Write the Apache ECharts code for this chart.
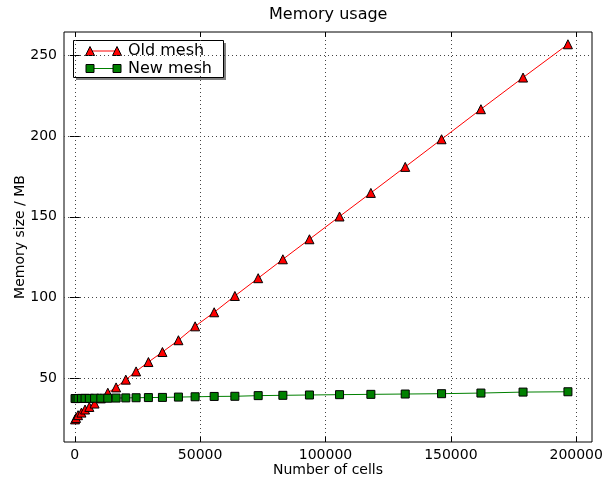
<!DOCTYPE html>
<html>
<head>
<meta charset="utf-8">
<script src="https://cdn.jsdelivr.net/npm/echarts@6/dist/echarts.min.js"></script>
<style>
html,body{margin:0;padding:0;background:#fff;}
#chart{width:606px;height:479px;}
</style>
</head>
<body>
<div id="chart"></div>
<script>
// Data
const cells = [100, 500, 1300, 2650, 4100, 5800, 7900, 10400, 13170, 16480, 20350, 24460, 29370, 34960, 41340, 48000, 55600, 63850, 73150, 83000, 93600, 105600, 118100, 131800, 146300, 162000, 178800, 196700];
const oldMesh = [24.6, 25.5, 27.2, 28.8, 30.7, 32.3, 34.4, 37.6, 41.1, 44.4, 49.2, 54.3, 60.1, 66.3, 73.6, 82.2, 90.9, 101.0, 112.0, 123.7, 136.1, 150.2, 164.8, 180.9, 198.0, 216.6, 236.2, 256.8];
const newMesh = [37.5, 37.5, 37.5, 37.6, 37.6, 37.6, 37.7, 37.7, 37.7, 37.8, 37.9, 38.0, 38.1, 38.2, 38.4, 38.6, 38.8, 38.9, 39.3, 39.5, 39.7, 39.9, 40.1, 40.3, 40.5, 40.9, 41.5, 41.7];
const xTicks = [0, 50000, 100000, 150000, 200000];
const yTicks = [50, 100, 150, 200, 250];
const seriesNames = ['Old mesh', 'New mesh'];
const titleText = 'Memory usage';
const xName = 'Number of cells';
const yName = 'Memory size / MB';

const FONT = 'DejaVu Sans';
const X_MIN = -4300, X_MAX = 206300, Y_MIN = 10.6, Y_MAX = 264.4;

const chart = echarts.init(document.getElementById('chart'), null, {renderer: 'canvas'});

const gridLine = {show: true, lineStyle: {color: '#444', width: 1, type: [1, 3]}};
const tickStyle = {show: true, inside: true, length: 5, lineStyle: {color: '#000', width: 1}};
const plain = v => String(v);

function tri(cx, cy, s) {
  const h = s / 2;
  return [[cx, cy - h], [cx - h, cy + h], [cx + h, cy + h]];
}

const legendX = 73.5, legendY = 40.5, legendW = 150, legendH = 37;
const l1 = 51, l2 = 68.5, sx1 = 90, sx2 = 117;

const option = {
  animation: false,
  backgroundColor: '#fff',
  textStyle: {fontFamily: FONT},
  title: {
    text: titleText,
    left: 269, top: 7, padding: 0,
    textStyle: {fontFamily: FONT, fontSize: 16, fontWeight: 'normal', color: '#000'}
  },
  grid: {
    left: 64, top: 32, width: 528, height: 410,
    show: true, borderColor: '#000', borderWidth: 1, backgroundColor: '#fff',
    containLabel: false, outerBoundsMode: 'none'
  },
  xAxis: [{
    type: 'value', position: 'bottom', min: X_MIN, max: X_MAX,
    name: xName, nameLocation: 'middle', nameGap: 21, nameMoveOverlap: false,
    nameTextStyle: {fontFamily: FONT, fontSize: 14, color: '#000'},
    axisLine: {show: false},
    axisTick: Object.assign({customValues: xTicks}, tickStyle),
    axisLabel: {customValues: xTicks, formatter: plain, margin: 6, fontFamily: FONT, fontSize: 14, color: '#000'},
    splitLine: gridLine
  }, {
    type: 'value', position: 'top', min: X_MIN, max: X_MAX,
    axisLine: {show: false},
    axisTick: Object.assign({customValues: xTicks}, tickStyle),
    axisLabel: {show: false},
    splitLine: {show: false}
  }],
  yAxis: [{
    type: 'value', position: 'left', min: Y_MIN, max: Y_MAX,
    name: yName, nameLocation: 'middle', nameGap: 37, nameMoveOverlap: false,
    nameTextStyle: {fontFamily: FONT, fontSize: 14, color: '#000'},
    axisLine: {show: false},
    axisTick: Object.assign({customValues: yTicks}, tickStyle),
    axisLabel: {customValues: yTicks, formatter: plain, margin: 7, fontFamily: FONT, fontSize: 14, color: '#000'},
    splitLine: gridLine
  }, {
    type: 'value', position: 'right', min: Y_MIN, max: Y_MAX,
    axisLine: {show: false},
    axisTick: Object.assign({customValues: yTicks}, tickStyle),
    axisLabel: {show: false},
    splitLine: {show: false}
  }],
  series: [{
    name: seriesNames[0], type: 'line', xAxisIndex: 0, yAxisIndex: 0,
    data: cells.map((c, i) => [c, oldMesh[i]]),
    symbol: 'triangle', symbolSize: 9, showSymbol: true,
    lineStyle: {color: '#ff0000', width: 1},
    itemStyle: {color: '#ff0000', borderColor: '#000', borderWidth: 1},
    emphasis: {disabled: true}
  }, {
    name: seriesNames[1], type: 'line', xAxisIndex: 0, yAxisIndex: 0,
    data: cells.map((c, i) => [c, newMesh[i]]),
    symbol: 'rect', symbolSize: 8, showSymbol: true,
    lineStyle: {color: '#008000', width: 1},
    itemStyle: {color: '#008000', borderColor: '#000', borderWidth: 1},
    emphasis: {disabled: true}
  }],
  graphic: [{
    type: 'group', z: 100,
    children: [
      {type: 'rect', shape: {x: legendX + 2.5, y: legendY + 2.5, width: legendW, height: legendH}, style: {fill: '#7f7f7f'}},
      {type: 'rect', shape: {x: legendX, y: legendY, width: legendW, height: legendH}, style: {fill: '#fff', stroke: '#000', lineWidth: 1}},
      {type: 'line', shape: {x1: sx1, y1: l1, x2: sx2, y2: l1}, style: {stroke: '#ff0000', lineWidth: 1}},
      {type: 'polygon', shape: {points: tri(sx1, l1, 9)}, style: {fill: '#ff0000', stroke: '#000', lineWidth: 1}},
      {type: 'polygon', shape: {points: tri(sx2, l1, 9)}, style: {fill: '#ff0000', stroke: '#000', lineWidth: 1}},
      {type: 'text', x: 128, y: l1, style: {text: seriesNames[0], fontFamily: FONT, fontSize: 16, fill: '#000', verticalAlign: 'middle', align: 'left'}},
      {type: 'line', shape: {x1: sx1, y1: l2, x2: sx2, y2: l2}, style: {stroke: '#008000', lineWidth: 1}},
      {type: 'rect', shape: {x: sx1 - 4, y: l2 - 4, width: 8, height: 8}, style: {fill: '#008000', stroke: '#000', lineWidth: 1}},
      {type: 'rect', shape: {x: sx2 - 4, y: l2 - 4, width: 8, height: 8}, style: {fill: '#008000', stroke: '#000', lineWidth: 1}},
      {type: 'text', x: 128, y: l2, style: {text: seriesNames[1], fontFamily: FONT, fontSize: 16, fill: '#000', verticalAlign: 'middle', align: 'left'}}
    ]
  }]
};

chart.setOption(option);
</script>
</body>
</html>
